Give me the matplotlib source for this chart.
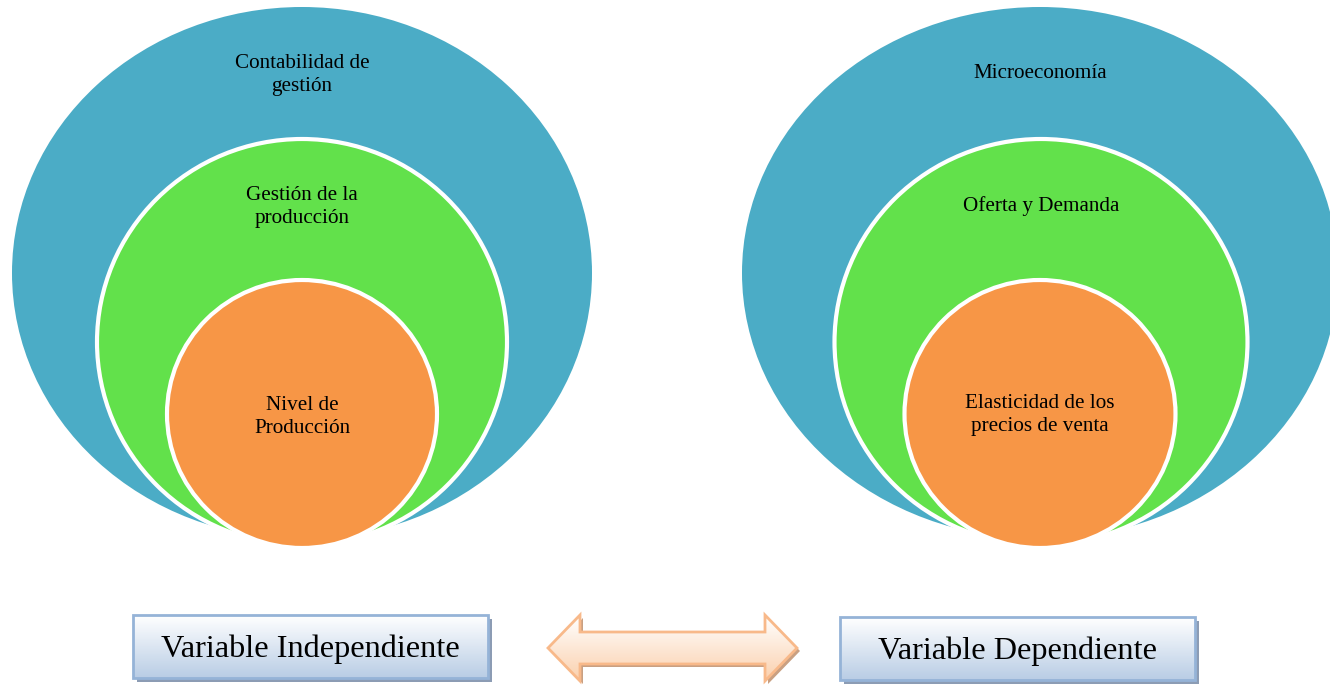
import matplotlib.pyplot as plt
import numpy as np
from matplotlib.colors import to_rgb
from matplotlib.patches import Ellipse, Polygon, Rectangle

# labels, outer ring to inner circle
left_labels = ["Contabilidad de\ngestión", "Gestión de la\nproducción", "Nivel de\nProducción"]
right_labels = ["Microeconomía", "Oferta y Demanda", "Elasticidad de los\nprecios de venta"]
box_labels = ["Variable Independiente", "Variable Dependiente"]

ring_colors = ["#4bacc6", "#62e14b", "#f79646"]

# geometry in pixel units (x right, y down)
left_rings = [((302, 273), 580, 532), ((302, 342), 410, 406), ((302, 414), 270, 268)]
right_rings = [((1040, 273), 596, 532), ((1041, 342), 413, 406), ((1040, 414), 271, 268)]
left_text_y = [75, 207, 417]
right_text_y = [73, 206, 415]
boxes = [(133, 615, 355, 63), (840, 617, 355, 63)]

W, H = 1330, 685
fig = plt.figure(figsize=(W / 100, H / 100), dpi=100)
ax = fig.add_axes([0, 0, 1, 1])
ax.set_xlim(0, W)
ax.set_ylim(H, 0)
ax.axis("off")

serif = ["Liberation Serif", "DejaVu Serif"]


def draw_rings(rings, labels, text_y):
    for i, ((cx, cy), w, h) in enumerate(rings):
        ec = "none" if i == 0 else "white"
        ax.add_patch(Ellipse((cx, cy), w, h, facecolor=ring_colors[i], edgecolor=ec, lw=3, zorder=1 + i))
        ax.text(cx, text_y[i], labels[i], ha="center", va="center", fontsize=15.2,
                family=serif, linespacing=1.25, zorder=10)


draw_rings(left_rings, left_labels, left_text_y)
draw_rings(right_rings, right_labels, right_text_y)


def gradient_fill(patch, x0, x1, y0, y1, c_top, c_bot):
    t = np.linspace(0, 1, 64)[:, None, None]
    img = np.array(to_rgb(c_top)) * (1 - t) + np.array(to_rgb(c_bot)) * t
    img = np.repeat(img, 2, axis=1)
    im = ax.imshow(img, extent=(x0, x1, y1, y0), origin="upper", aspect="auto", zorder=patch.get_zorder())
    im.set_clip_path(patch)


for (x, y, w, h), label in zip(boxes, box_labels):
    ax.add_patch(Rectangle((x + 4, y + 4), w, h, facecolor="#8c9cb4", edgecolor="none", zorder=5))
    base = Rectangle((x, y), w, h, facecolor="white", edgecolor="none", zorder=6)
    ax.add_patch(base)
    gradient_fill(base, x, x + w, y, y + h, "#ffffff", "#b9cde5")
    ax.add_patch(Rectangle((x, y), w, h, facecolor="none", edgecolor="#95b3d7", lw=2, zorder=7))
    ax.text(x + w / 2, y + h / 2 + 3, label, ha="center", va="center", fontsize=23.3,
            family=serif, zorder=10)

# double arrow
arrow_pts = [(548, 648), (580, 615), (580, 632), (765, 632), (765, 615), (797, 648),
             (765, 681), (765, 664), (580, 664), (580, 681)]
ax.add_patch(Polygon([(px + 3, py + 3) for px, py in arrow_pts], closed=True,
                     facecolor="#c9a082", edgecolor="none", zorder=5))
arrow_base = Polygon(arrow_pts, closed=True, facecolor="white", edgecolor="none", zorder=6)
ax.add_patch(arrow_base)
gradient_fill(arrow_base, 548, 797, 615, 681, "#ffffff", "#fbd0ad")
ax.add_patch(Polygon(arrow_pts, closed=True, facecolor="none", edgecolor="#f8b98a", lw=2, zorder=7))

fig.savefig("out.png", dpi=100)
